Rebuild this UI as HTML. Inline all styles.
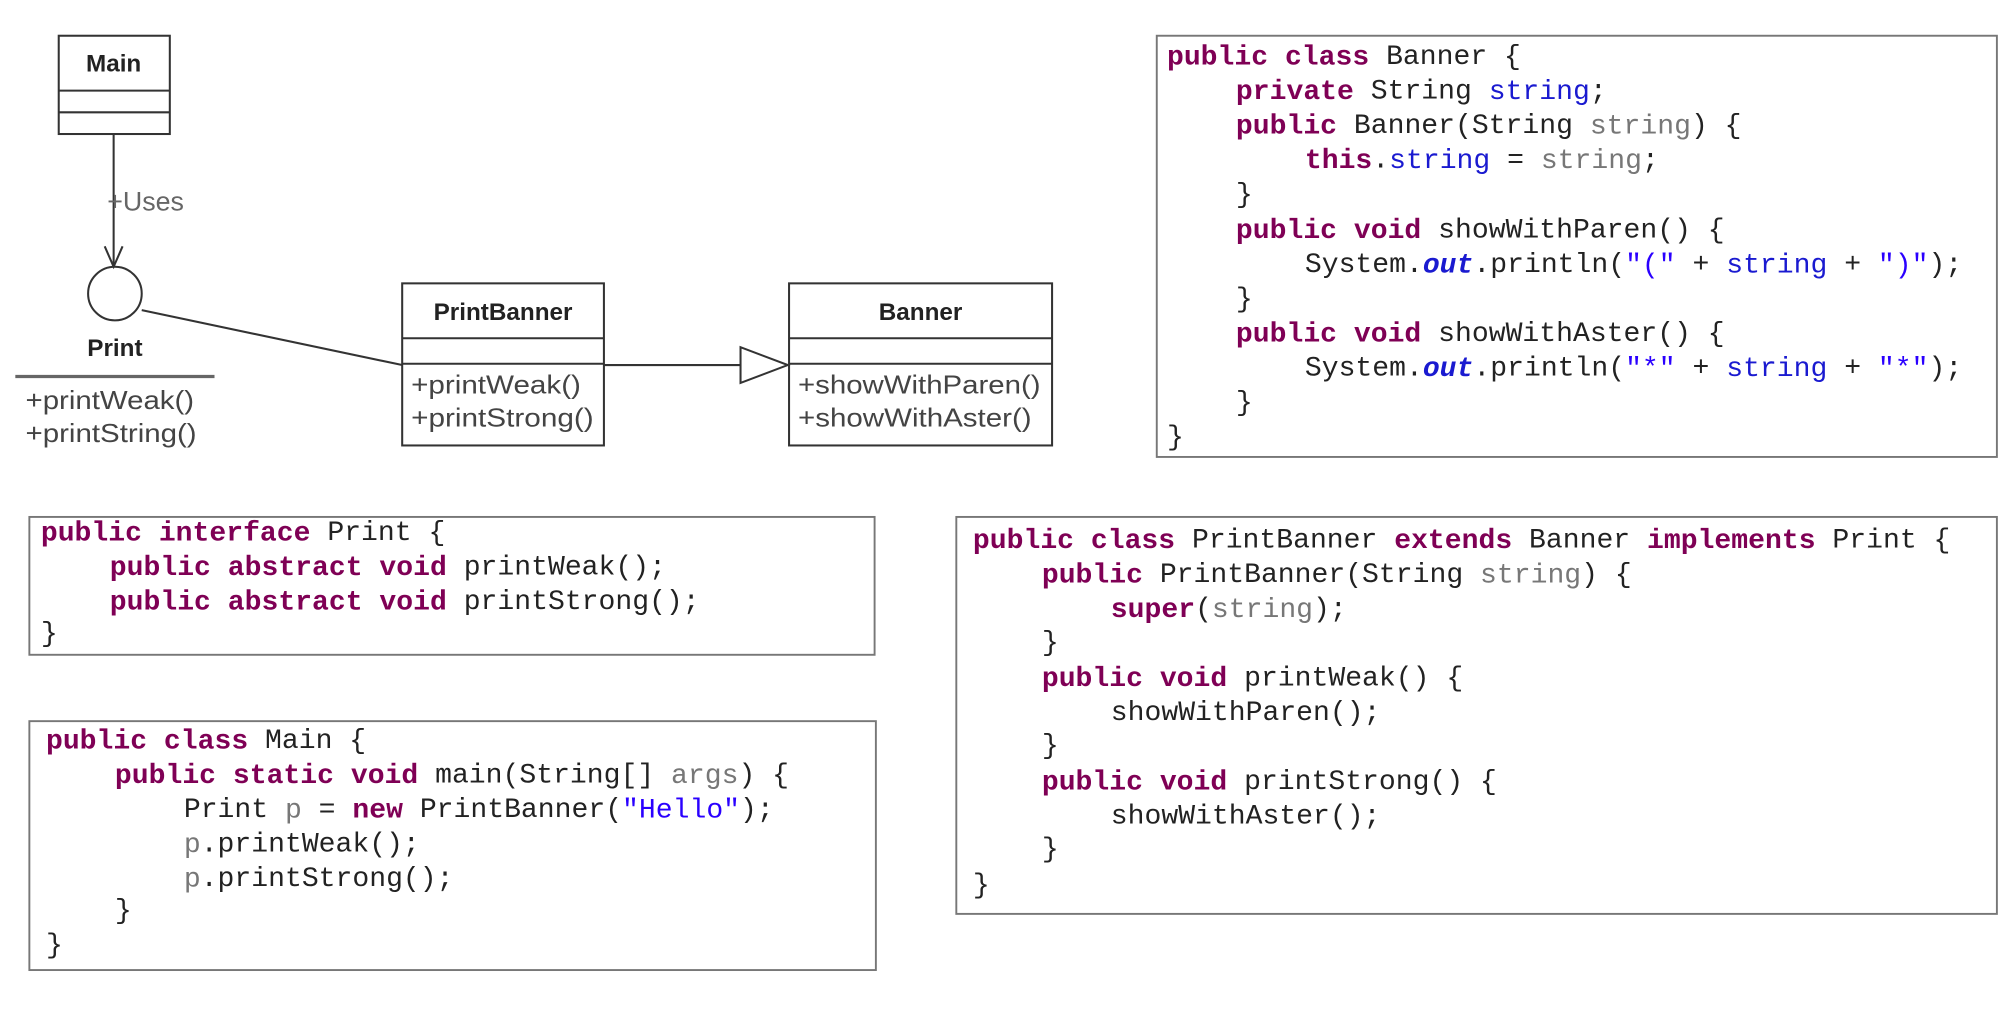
<!DOCTYPE html>
<html><head><meta charset="utf-8"><style>
html,body{margin:0;padding:0;background:#fff;overflow:hidden}
svg{display:block}
.c{font-family:"Liberation Mono",monospace;font-size:22px;fill:#222}
.k{fill:#7f0055;font-weight:bold}
.f{fill:#1a1ad0}
.p{fill:#777}
.s{fill:#2a00ff}
.u{font-family:"Liberation Sans",sans-serif;fill:#222}
</style></head><body>
<svg width="2002" height="1016" viewBox="0 0 1568 796" preserveAspectRatio="none" xmlns="http://www.w3.org/2000/svg">
<rect width="1568" height="796" fill="#fff"/>
<g stroke="#333" stroke-width="1.6" fill="none">
<rect x="46" y="28" width="87" height="77"/>
<line x1="46" y1="71" x2="133" y2="71"/><line x1="46" y1="88" x2="133" y2="88"/>
<line x1="89" y1="105" x2="89" y2="208"/>
<polyline points="82,193 89,209 96,193"/>
<circle cx="90" cy="230" r="21"/>
<line x1="12" y1="295" x2="168" y2="295" stroke="#666" stroke-width="2.5"/>
<line x1="111" y1="243" x2="315" y2="286"/>
<rect x="315" y="222" width="158" height="127"/>
<line x1="315" y1="265" x2="473" y2="265"/><line x1="315" y1="285" x2="473" y2="285"/>
<line x1="473" y1="286" x2="580" y2="286"/>
<polygon points="580,272 580,300 617,286" fill="#fff"/>
<rect x="618" y="222" width="206" height="127"/>
<line x1="618" y1="265" x2="824" y2="265"/><line x1="618" y1="285" x2="824" y2="285"/>
</g>
<g stroke="#777" stroke-width="1.5" fill="none">
<rect x="906" y="28" width="658" height="330"/>
<rect x="749" y="405" width="815" height="311"/>
<rect x="23" y="405" width="662" height="108"/>
<rect x="23" y="565" width="663" height="195"/>
</g>
<g class="u" dominant-baseline="central">
<text x="89" y="50" font-weight="bold" font-size="19" text-anchor="middle">Main</text>
<text x="84" y="158" font-size="21" fill="#666">+Uses</text>
<text x="90" y="273" font-weight="bold" font-size="19" text-anchor="middle">Print</text>
<text x="20" y="314" font-size="20" fill="#444" textLength="132" lengthAdjust="spacingAndGlyphs">+printWeak()</text>
<text x="20" y="340" font-size="20" fill="#444" textLength="134" lengthAdjust="spacingAndGlyphs">+printString()</text>
<text x="394" y="245" font-weight="bold" font-size="19" text-anchor="middle">PrintBanner</text>
<text x="322" y="302" font-size="20" fill="#444" textLength="133" lengthAdjust="spacingAndGlyphs">+printWeak()</text>
<text x="322" y="328" font-size="20" fill="#444" textLength="143" lengthAdjust="spacingAndGlyphs">+printStrong()</text>
<text x="721" y="245" font-weight="bold" font-size="19" text-anchor="middle">Banner</text>
<text x="625" y="302" font-size="20" fill="#444" textLength="190" lengthAdjust="spacingAndGlyphs">+showWithParen()</text>
<text x="625" y="328" font-size="20" fill="#444" textLength="183" lengthAdjust="spacingAndGlyphs">+showWithAster()</text>
</g>
<g class="c" dominant-baseline="central">
<text x="914" y="45"><tspan class="k">public class</tspan> Banner {</text>
<text x="968" y="72"><tspan class="k">private</tspan> String <tspan class="f">string</tspan>;</text>
<text x="968" y="99"><tspan class="k">public</tspan> Banner(String <tspan class="p">string</tspan>) {</text>
<text x="1022" y="126"><tspan class="k">this</tspan>.<tspan class="f">string</tspan> = <tspan class="p">string</tspan>;</text>
<text x="968" y="153">}</text>
<text x="968" y="181"><tspan class="k">public void</tspan> showWithParen() {</text>
<text x="1022" y="208">System.<tspan class="f" font-style="italic" font-weight="bold">out</tspan>.println(<tspan class="s">"("</tspan> + <tspan class="f">string</tspan> + <tspan class="s">")"</tspan>);</text>
<text x="968" y="235">}</text>
<text x="968" y="262"><tspan class="k">public void</tspan> showWithAster() {</text>
<text x="1022" y="289">System.<tspan class="f" font-style="italic" font-weight="bold">out</tspan>.println(<tspan class="s">"*"</tspan> + <tspan class="f">string</tspan> + <tspan class="s">"*"</tspan>);</text>
<text x="968" y="316">}</text>
<text x="914" y="343">}</text>
<text x="762" y="424"><tspan class="k">public class</tspan> PrintBanner <tspan class="k">extends</tspan> Banner <tspan class="k">implements</tspan> Print {</text>
<text x="816" y="451"><tspan class="k">public</tspan> PrintBanner(String <tspan class="p">string</tspan>) {</text>
<text x="870" y="478"><tspan class="k">super</tspan>(<tspan class="p">string</tspan>);</text>
<text x="816" y="504">}</text>
<text x="816" y="532"><tspan class="k">public void</tspan> printWeak() {</text>
<text x="870" y="559">showWithParen();</text>
<text x="816" y="585">}</text>
<text x="816" y="613"><tspan class="k">public void</tspan> printStrong() {</text>
<text x="870" y="640">showWithAster();</text>
<text x="816" y="666">}</text>
<text x="762" y="694">}</text>
<text x="32" y="418"><tspan class="k">public interface</tspan> Print {</text>
<text x="86" y="445"><tspan class="k">public abstract void</tspan> printWeak();</text>
<text x="86" y="472"><tspan class="k">public abstract void</tspan> printStrong();</text>
<text x="32" y="497">}</text>
<text x="36" y="581"><tspan class="k">public class</tspan> Main {</text>
<text x="90" y="608"><tspan class="k">public static void</tspan> main(String[] <tspan class="p">args</tspan>) {</text>
<text x="144" y="635">Print <tspan class="p">p</tspan> = <tspan class="k">new</tspan> PrintBanner(<tspan class="s">"Hello"</tspan>);</text>
<text x="144" y="662"><tspan class="p">p</tspan>.printWeak();</text>
<text x="144" y="689"><tspan class="p">p</tspan>.printStrong();</text>
<text x="90" y="714">}</text>
<text x="36" y="741">}</text>
</g>
</svg>
</body></html>
